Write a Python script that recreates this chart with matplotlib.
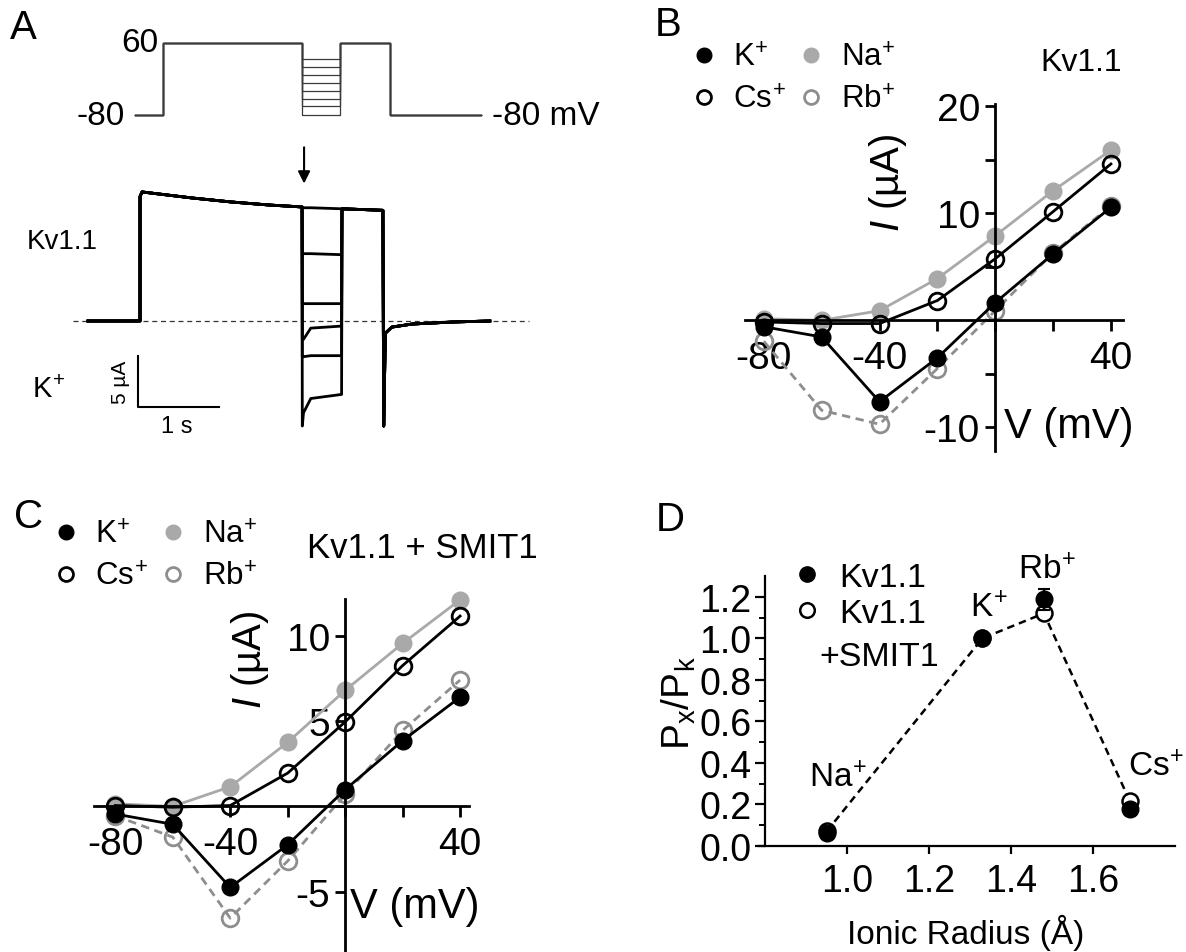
import numpy as np
import matplotlib.pyplot as plt
from matplotlib.lines import Line2D

plt.rcParams['font.family'] = ['Liberation Sans', 'DejaVu Sans']
plt.rcParams['mathtext.fontset'] = 'custom'
plt.rcParams['mathtext.rm'] = 'Liberation Sans'
plt.rcParams['mathtext.it'] = 'Liberation Sans:italic'
plt.rcParams['mathtext.bf'] = 'Liberation Sans:bold'
plt.rcParams['axes.unicode_minus'] = False

W, H = 1186, 953

# ---- panel A: protocol (s, mV) and current sweeps (s, uA)
prot_t = [0.0, 0.346, 0.346, 2.06, 2.06, 2.53, 2.53, 3.15, 3.15, 4.27]
step_mv = [29, 13, -2, -18, -33, -48, -63, -80]

pre_t = [0.0, 0.642, 0.642, 0.667, 1.284, 1.765, 2.235, 2.642]
pre_i = [0.0, 0.0, 12.2, 12.65, 12.06, 11.67, 11.37, 11.18]
step_t = [2.645, 2.66, 2.75, 3.13]
step_spike = [11.1, 6.6, 1.7, -1.8, -3.5, -10.3]
step_start = [11.1, 6.6, 1.7, -1.8, -3.5, -9.0]
step_mid = [11.1, 6.6, 1.7, -0.7, -3.4, -7.6]
step_end = [11.0, 6.5, 1.7, -0.5, -3.4, -7.2]
tail_t = [3.135, 3.64, 3.65, 3.67, 3.75, 4.0, 4.5, 4.96]
tail_i = [11.0, 10.85, -10.3, -1.2, -0.6, -0.3, -0.1, 0.0]

# ---- panels B, C: I-V curves
volt = [-80, -60, -40, -20, 0, 20, 40]
b_k = [-0.6, -1.55, -7.6, -3.5, 1.65, 6.2, 10.55]
b_na = [0.15, 0.0, 0.9, 3.9, 7.9, 12.1, 15.9]
b_cs = [-0.15, -0.3, -0.3, 1.85, 5.75, 10.15, 14.6]
b_rb = [-1.95, -8.4, -9.7, -4.5, 0.9, 6.3, 10.7]

c_k = [-0.45, -1.05, -4.75, -2.25, 0.98, 3.85, 6.4]
c_na = [0.15, 0.0, 1.15, 3.75, 6.8, 9.55, 12.1]
c_cs = [0.05, -0.05, 0.05, 1.95, 4.95, 8.25, 11.15]
c_rb = [-0.55, -1.8, -6.55, -3.2, 0.7, 4.45, 7.4]

# ---- panel D: permeability ratios
radius = [0.95, 1.33, 1.48, 1.69]
ion_names = ['Na', 'K', 'Rb', 'Cs']
d_kv = [0.064, 1.0, 1.187, 0.176]
d_kv_err = [0.0, 0.0, 0.05, 0.0]
d_smit = [0.07, 1.0, 1.12, 0.216]
ion_lab_x = [0.978, 1.345, 1.489, 1.754]
ion_lab_y = [0.33, 1.15, 1.33, 0.38]

na_col = '#a9a9a9'
rb_col = '#8e8e8e'


def ion(s):
    # element symbol with a tight superscript plus
    return '$\\mathregular{%s}^{\\!+}$' % s


def box(l, t, r, b):
    return [l / W, 1 - b / H, (r - l) / W, (b - t) / H]


def ftext(x, y, s, **kw):
    fig.text(x / W, 1 - y / H, s, **kw)


fig = plt.figure(figsize=(11.86, 9.53), dpi=100)

# ================= A =================
axp = fig.add_axes(box(100, 30, 600, 130))
axp.set_xlim(-0.432, 5.74)
axp.set_ylim(-107.2, 87.2)
axp.axis('off')
for v in step_mv:
    pv = [-80, -80, 60, 60, v, v, 60, 60, -80, -80]
    axp.plot(prot_t, pv, color='#3a3a3a', lw=0.9)
axp.text(0.284, 60, '60', ha='right', va='center', fontsize=24)
axp.text(-0.123, -80, '-80', ha='right', va='center', fontsize=24)
axp.text(4.41, -80, '-80 mV', ha='left', va='center', fontsize=24)

axa = fig.add_axes(box(60, 180, 600, 440))
axa.set_xlim(-0.346, 6.32)
axa.set_ylim(-11.57, 13.92)
axa.axis('off')
axa.plot([-0.185, 5.44], [0, 0], color='#333333', lw=0.9, dashes=(4, 3))
for k in range(len(step_mid)):
    t = pre_t + step_t + tail_t
    i = pre_i + [step_spike[k], step_start[k], step_mid[k], step_end[k]] + tail_i
    axa.plot(t, i, color='k', lw=2)
# scale bar
axa.plot([0.617, 0.617, 1.617], [-3.43, -8.43, -8.43], color='k', lw=1.5)
axa.text(0.40, -5.93, '5 µA', rotation=90, ha='center', va='center', fontsize=15)
axa.text(1.1, -10.3, '1 s', ha='center', va='center', fontsize=17)
axa.annotate('', xy=(2.667, 13.2), xytext=(2.667, 17.3), annotation_clip=False,
             arrowprops=dict(arrowstyle='-|>', color='k', lw=1.5, mutation_scale=18))

ftext(10, 28, 'A', fontsize=29, va='center')
ftext(27, 242, 'Kv1.1', fontsize=20, va='center')
ftext(32, 390, ion('K'), fontsize=21, va='center')


# ================= B, C =================
def iv_panel(ax, k, na, cs, rb):
    kw = dict(marker='o', ms=12, lw=2, clip_on=False)
    ax.plot(volt, rb, color=rb_col, dashes=(3, 2), mfc='none', mec=rb_col, mew=2, **kw)
    ax.plot(volt, na, color=na_col, mfc=na_col, mec=na_col, **kw)
    ax.plot(volt, cs, color='k', mfc='none', mec='k', mew=2, **kw)
    ax.plot(volt, k, color='k', mfc='k', mec='k', **kw)
    ax.patch.set_visible(False)
    for s in ['top', 'right']:
        ax.spines[s].set_visible(False)
    ax.spines['left'].set_position(('data', 0))
    ax.spines['bottom'].set_position(('data', 0))
    for s in ['left', 'bottom']:
        ax.spines[s].set_linewidth(2)
    ax.set_xticks(volt)
    ax.set_xticklabels(['-80', '', '-40', '', '', '', '40'])
    ax.tick_params(axis='x', direction='out', length=8, width=2, labelsize=28, pad=6)
    ax.tick_params(axis='y', direction='out', length=7, width=2, labelsize=28, pad=4)


def iv_legend(x, y):
    hs = [Line2D([], [], ls='none', marker='o', ms=10.5, mfc='k', mec='k'),
          Line2D([], [], ls='none', marker='o', ms=10, mfc='none', mec='k', mew=2),
          Line2D([], [], ls='none', marker='o', ms=10.5, mfc=na_col, mec=na_col),
          Line2D([], [], ls='none', marker='o', ms=10, mfc='none', mec=rb_col, mew=2)]
    labs = [ion('K'), ion('Cs'), ion('Na'), ion('Rb')]
    fig.legend(hs, labs, loc='upper left', bbox_to_anchor=(x / W, 1 - y / H),
               ncol=2, frameon=False, fontsize=22.5, handlelength=0.8,
               handletextpad=0.55, columnspacing=0.4, labelspacing=0.38,
               borderpad=0, borderaxespad=0)


axb = fig.add_axes(box(745, 105, 1122.5, 452))
iv_panel(axb, b_k, b_na, b_cs, b_rb)
axb.set_xlim(-86.5, 44)
axb.set_ylim(-12.2, 20.2)
axb.set_yticks([-10, -5, 0, 5, 10, 15, 20])
axb.set_yticklabels(['-10', '', '', '', '10', '', '20'])
iv_legend(691, 44)
ftext(655, 25, 'B', fontsize=29, va='center')
ftext(1122, 63, 'Kv1.1', fontsize=23, va='center', ha='right')
ftext(888, 183, '$I$ (µA)', fontsize=29, rotation=90, ha='center', va='center')
ftext(1004, 427, 'V (mV)', fontsize=30, va='center')

axc = fig.add_axes(box(94, 600, 469, 955))
iv_panel(axc, c_k, c_na, c_cs, c_rb)
axc.set_xlim(-87.4, 43.1)
axc.set_ylim(-8.65, 12.15)
axc.set_yticks([-5, 0, 5, 10])
axc.set_yticklabels(['-5', '', '5', '10'])
iv_legend(53, 521)
ftext(14, 517, 'C', fontsize=29, va='center')
ftext(307, 548, 'Kv1.1 + SMIT1', fontsize=25, va='center')
ftext(250, 660, '$I$ (µA)', fontsize=29, rotation=90, ha='center', va='center')
ftext(350, 907, 'V (mV)', fontsize=30, va='center')

# ================= D =================
axd = fig.add_axes(box(759, 577, 1175, 847))
axd.set_xlim(0.785, 1.8)
axd.set_ylim(0, 1.3)
axd.plot(radius, d_smit, color='k', lw=1.8, dashes=(3, 2), zorder=2)
axd.plot(radius, d_smit, ls='none', marker='o', ms=11.5, mfc='white', mec='k',
         mew=1.8, zorder=3, clip_on=False)
axd.errorbar(radius, d_kv, yerr=d_kv_err, fmt='o', ms=12, color='k', mfc='k',
             ecolor='k', elinewidth=1.5, capsize=4, capthick=1.5, zorder=4,
             clip_on=False)
for x, y, s in zip(ion_lab_x, ion_lab_y, ion_names):
    axd.text(x, y, ion(s), ha='center', va='center', fontsize=24, clip_on=False)
axd.patch.set_visible(False)
for s in ['top', 'right']:
    axd.spines[s].set_visible(False)
axd.spines['left'].set_position(('data', 0.8))
for s in ['left', 'bottom']:
    axd.spines[s].set_linewidth(1.6)
axd.set_xticks([1.0, 1.2, 1.4, 1.6])
axd.set_xticklabels(['1.0', '1.2', '1.4', '1.6'])
axd.set_yticks([0.0, 0.2, 0.4, 0.6, 0.8, 1.0, 1.2])
axd.set_yticklabels(['0.0', '0.2', '0.4', '0.6', '0.8', '1.0', '1.2'])
axd.set_yticks([0.1, 0.3, 0.5, 0.7, 0.9, 1.1], minor=True)
axd.tick_params(axis='x', direction='out', length=6, width=1.6, labelsize=27, pad=6)
axd.tick_params(axis='y', direction='out', length=7, width=1.6, labelsize=27, pad=3)
axd.tick_params(axis='y', which='minor', direction='out', length=4, width=1.4)

hd = [Line2D([], [], ls='none', marker='o', ms=11, mfc='k', mec='k'),
      Line2D([], [], ls='none', marker='o', ms=10.5, mfc='white', mec='k', mew=1.8)]
fig.legend(hd, ['Kv1.1', 'Kv1.1'], loc='upper left',
           bbox_to_anchor=(795 / W, 1 - 563 / H), frameon=False, fontsize=24.5,
           handlelength=0.7, handletextpad=0.6, labelspacing=0.15,
           borderpad=0, borderaxespad=0)
ftext(879, 657, '+SMIT1', fontsize=24.5, ha='center', va='center')
ftext(656, 520, 'D', fontsize=29, va='center')
ftext(679, 703, 'P$_\\mathregular{x}$/P$_\\mathregular{k}$', fontsize=28, rotation=90,
      ha='center', va='center')
ftext(966, 933, 'Ionic Radius (Å)', fontsize=24, ha='center', va='center')

fig.savefig('out.png', dpi=100)
